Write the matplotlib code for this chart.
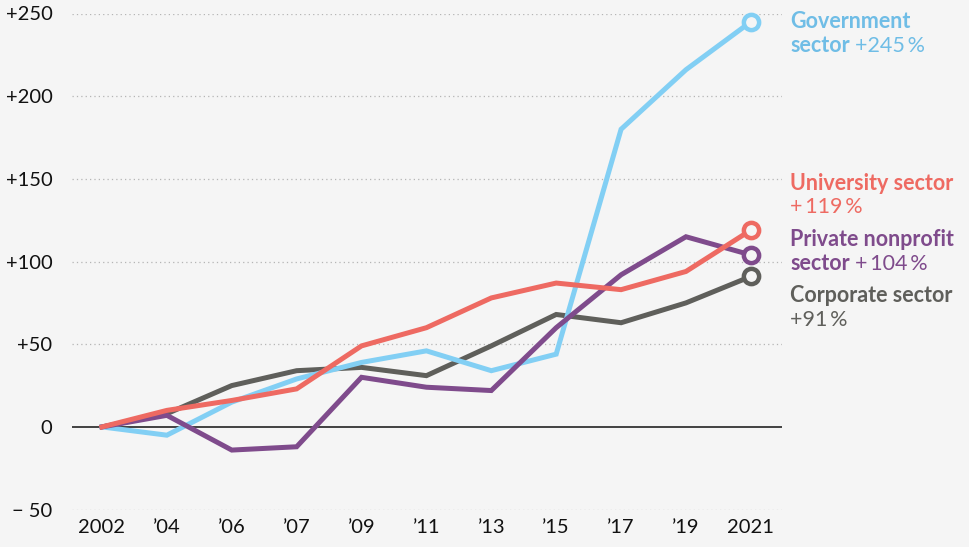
import matplotlib
matplotlib.use("Agg")
import matplotlib.pyplot as plt

plt.rcParams['font.family'] = ['Lato', 'DejaVu Sans']

years = ["2002", "’04", "’06", "’07", "’09", "’11", "’13", "’15", "’17", "’19", "2021"]
government = [0, -5, 15, 29, 39, 46, 34, 44, 180, 216, 245]
university = [0, 10, 16, 23, 49, 60, 78, 87, 83, 94, 119]
private_nonprofit = [0, 7, -14, -12, 30, 24, 22, 60, 92, 115, 104]
corporate = [0, 8, 25, 34, 36, 31, 49, 68, 63, 75, 91]

yticks = [-50, 0, 50, 100, 150, 200, 250]
ytick_labels = ["− 50", "0", "+50", "+100", "+150", "+200", "+250"]

series = [
    ("Government", "sector", "+245\u2009%", government, "#82cff4", "#6fbde6"),
    ("University sector", "", "+\u2009119\u2009%", university, "#ee6a62", "#ee6a62"),
    ("Private nonprofit", "sector", "+\u2009104\u2009%", private_nonprofit, "#7f4b8c", "#7f4b8c"),
    ("Corporate sector", "", "+91\u2009%", corporate, "#5f5f5b", "#5f5f5b"),
]
label_y = [22, 183, 240, 296]  # pixel rows of first label line

BG = "#f5f5f5"
W, H = 969, 547
fig = plt.figure(figsize=(W / 100, H / 100), dpi=100, facecolor=BG)
left, right = 72 / W, 782 / W
bottom, top = 1 - 509.6 / H, 1 - 13.5 / H
ax = fig.add_axes([left, bottom, right - left, top - bottom], facecolor=BG)

x = list(range(len(years)))
ax.set_xlim(-0.462, 10.48)
ax.set_ylim(-50, 250)

for y in yticks:
    if y == 0:
        ax.axhline(0, color="#111111", lw=1.1, zorder=2)
    else:
        ax.axhline(y, color="#b5b5b5", lw=0.9, ls=(0, (1, 2.5)), zorder=1)

zs = {0: 4, 1: 6, 2: 5, 3: 3}
for i, (l1, l2, pct, vals, c, tc) in enumerate(series):
    ax.plot(x, vals, color=c, lw=3.6, solid_joinstyle="miter", zorder=zs[i], clip_on=False)
    ax.plot([x[-1]], [vals[-1]], marker="o", ms=11, mfc=BG, mec=c, mew=3.2,
            zorder=zs[i] + 5, clip_on=False)

for s in ax.spines.values():
    s.set_visible(False)
ax.set_yticks(yticks)
ax.set_yticklabels(ytick_labels)
ax.set_xticks(x)
ax.set_xticklabels(years)
ax.tick_params(axis="both", length=0, labelsize=14.5, colors="#111111")
ax.tick_params(axis="y", pad=14)
ax.tick_params(axis="x", pad=7)

fig.canvas.draw()
renderer = fig.canvas.get_renderer()
fs = 15.5
lx = 790
for (l1, l2, pct, vals, c, tc), ly in zip(series, label_y):
    y1 = 1 - ly / H
    y2 = 1 - (ly + 24) / H
    fig.text(lx / W, y1, l1, color=tc, fontsize=fs, fontweight="bold", va="center", ha="left")
    if l2:
        t = fig.text(lx / W, y2, l2, color=tc, fontsize=fs, fontweight="bold", va="center", ha="left")
        bb = t.get_window_extent(renderer)
        fig.text((bb.x1 + 5) / W, y2, pct, color=tc, fontsize=fs, va="center", ha="left")
    else:
        fig.text(lx / W, y2, pct, color=tc, fontsize=fs, va="center", ha="left")

fig.savefig("out.png", dpi=100, facecolor=BG)
